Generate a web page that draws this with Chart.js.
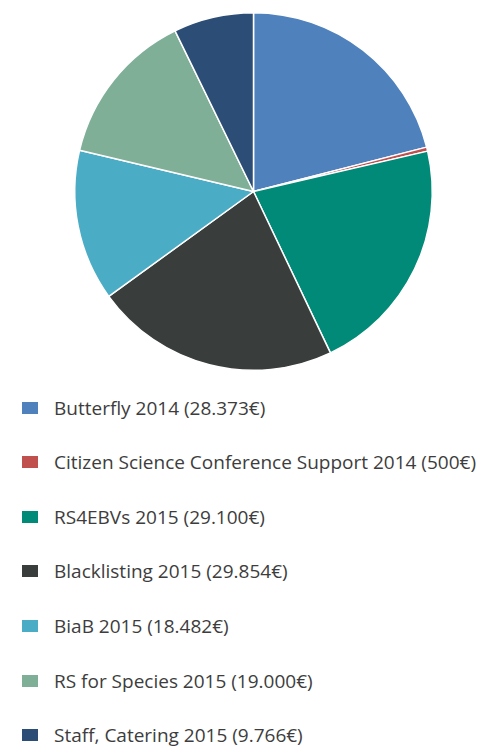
<!DOCTYPE html>
<html>
<head>
<meta charset="utf-8">
<script src="https://cdn.jsdelivr.net/npm/chart.js@4"></script>
<style>
  html, body { margin: 0; padding: 0; background: #ffffff; }
  body { width: 481px; height: 746px; position: relative; overflow: hidden; }
  #chart { position: absolute; left: 0; top: 0; }
  #legend { position: absolute; left: 0; top: 0; width: 481px; }
  .item { position: absolute; left: 22px; height: 24px; display: flex; align-items: center; white-space: nowrap;
          font-family: "Open Sans", sans-serif; font-size: 19px; color: #3d3d3d; }
  .box { width: 16px; height: 12px; margin-right: 16px; flex: none; }
</style>
</head>
<body>
<canvas id="chart" width="481" height="385"></canvas>
<div id="legend"></div>
<script>
const categories = [
  "Butterfly 2014",
  "Citizen Science Conference Support 2014",
  "RS4EBVs 2015",
  "Blacklisting 2015",
  "BiaB 2015",
  "RS for Species 2015",
  "Staff, Catering 2015"
];
const amounts = [28373, 500, 29100, 29854, 18482, 19000, 9766];
const amountLabels = ["28.373€", "500€", "29.100€", "29.854€", "18.482€", "19.000€", "9.766€"];
const colors = ["#4f81bd", "#c0504d", "#008a77", "#393d3b", "#4bacc6", "#80af98", "#2c4d75"];

const legendLabels = categories.map((c, i) => c + " (" + amountLabels[i] + ")");

new Chart(document.getElementById("chart"), {
  type: "pie",
  data: {
    labels: legendLabels,
    datasets: [{
      data: amounts,
      backgroundColor: colors,
      borderColor: "#ffffff",
      borderWidth: 1.5
    }]
  },
  options: {
    responsive: false,
    animation: false,
    layout: { padding: { left: 74, right: 48, top: 12, bottom: 14 } },
    plugins: {
      legend: { display: false },
      tooltip: { enabled: false }
    }
  }
});

const legend = document.getElementById("legend");
legendLabels.forEach((txt, i) => {
  const row = document.createElement("div");
  row.className = "item";
  row.style.top = (395.5 + i * 54.6) + "px";
  const box = document.createElement("span");
  box.className = "box";
  box.style.background = colors[i];
  const label = document.createElement("span");
  label.textContent = txt;
  row.appendChild(box);
  row.appendChild(label);
  legend.appendChild(row);
});
</script>
</body>
</html>
